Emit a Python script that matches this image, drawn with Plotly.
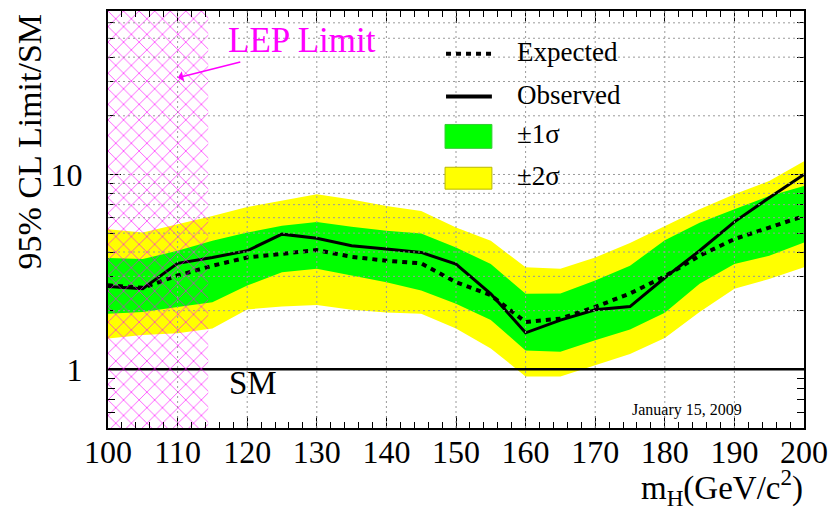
import math
import plotly.graph_objects as go

# Higgs mass points (GeV/c^2)
mass = [100, 105, 110, 115, 120, 125, 130, 135, 140, 145, 150,
        155, 160, 165, 170, 175, 180, 185, 190, 195, 200]

# 95% CL limit / SM, observed and median expected
observed = [2.66, 2.59, 3.50, 3.75, 4.06, 4.94, 4.71, 4.31, 4.14, 3.98, 3.47,
            2.44, 1.54, 1.79, 2.02, 2.10, 2.95, 4.06, 5.71, 7.60, 10.0]
expected = [2.70, 2.62, 3.03, 3.40, 3.75, 3.91, 4.09, 3.78, 3.61, 3.50, 2.80,
            2.40, 1.75, 1.82, 2.09, 2.45, 3.00, 3.83, 4.66, 5.34, 6.12]

# +-1 sigma and +-2 sigma bands around the expected limit
sigma1_lo = [1.93, 1.97, 2.09, 2.21, 2.69, 3.15, 3.28, 3.03, 2.80, 2.54, 2.17,
             1.79, 1.25, 1.23, 1.41, 1.60, 1.95, 2.75, 3.47, 3.83, 4.48]
sigma1_hi = [3.73, 3.68, 4.06, 4.57, 5.03, 5.45, 5.71, 5.39, 5.14, 4.98, 4.22,
             3.47, 2.44, 2.45, 2.86, 3.40, 4.60, 5.66, 6.63, 7.76, 8.73]
sigma2_lo = [1.44, 1.50, 1.53, 1.62, 2.03, 2.10, 2.14, 2.02, 1.96, 1.93, 1.62,
             1.28, 0.92, 0.92, 1.05, 1.20, 1.45, 1.97, 2.59, 2.91, 3.34]
sigma2_hi = [5.24, 5.03, 5.56, 6.12, 6.81, 7.37, 7.91, 7.45, 6.89, 6.50, 5.34,
             4.57, 3.34, 3.28, 3.75, 4.45, 5.45, 6.63, 7.91, 9.25, 11.7]

LEP_LIMIT = 114.4
SM_RATIO = 1.0
X_MIN, X_MAX = 100, 200
Y_MIN, Y_MAX = 0.5, 69

x_major = list(range(100, 201, 10))
y_major = [1, 10]
y_minor = [0.6, 0.7, 0.8, 0.9, 2, 3, 4, 5, 6, 7, 8, 9, 20, 30, 40, 50, 60]
y_grid = [2, 3, 4, 5, 6, 7, 8, 9, 10, 20, 30, 40, 50, 60]

SERIF = "Liberation Serif, Times New Roman, serif"
YELLOW = "#ffff00"
GREEN = "#00ff00"
MAGENTA = "#ff00ff"
DOT_DASH = "5px,5px"

fig = go.Figure()

# +-2 sigma band
fig.add_trace(go.Scatter(x=mass, y=sigma2_lo, mode="lines", line=dict(width=0),
                         showlegend=False, hoverinfo="skip"))
fig.add_trace(go.Scatter(x=mass, y=sigma2_hi, mode="lines", line=dict(width=0),
                         fill="tonexty", fillcolor=YELLOW, showlegend=False,
                         hoverinfo="skip"))
# +-1 sigma band
fig.add_trace(go.Scatter(x=mass, y=sigma1_lo, mode="lines", line=dict(width=0),
                         showlegend=False, hoverinfo="skip"))
fig.add_trace(go.Scatter(x=mass, y=sigma1_hi, mode="lines", line=dict(width=0),
                         fill="tonexty", fillcolor=GREEN, showlegend=False,
                         hoverinfo="skip"))

# SM reference line
fig.add_trace(go.Scatter(x=[X_MIN, X_MAX], y=[SM_RATIO, SM_RATIO], mode="lines",
                         line=dict(color="black", width=2.5), showlegend=False,
                         hoverinfo="skip"))

# expected and observed limits
fig.add_trace(go.Scatter(x=mass, y=expected, mode="lines",
                         line=dict(color="black", width=4, dash=DOT_DASH),
                         name="Expected", showlegend=False))
fig.add_trace(go.Scatter(x=mass, y=observed, mode="lines",
                         line=dict(color="black", width=3),
                         name="Observed", showlegend=False))

# LEP exclusion, cross-hatched
fig.add_trace(go.Scatter(
    x=[X_MIN, LEP_LIMIT, LEP_LIMIT, X_MIN, X_MIN],
    y=[Y_MIN, Y_MIN, Y_MAX, Y_MAX, Y_MIN],
    mode="lines", line=dict(width=0), fill="toself",
    fillcolor="rgba(0,0,0,0)",
    fillpattern=dict(shape="x", fgcolor=MAGENTA, bgcolor="rgba(0,0,0,0)",
                     fgopacity=0.9, size=11, solidity=0.12),
    showlegend=False, hoverinfo="skip"))

shapes = []
for xv in x_major[1:-1]:
    shapes.append(dict(type="line", xref="x", yref="paper", x0=xv, x1=xv,
                       y0=0, y1=1, layer="above",
                       line=dict(color="#9a9a9a", width=1, dash="2px,3px")))
for yv in y_grid:
    shapes.append(dict(type="line", xref="paper", yref="y", x0=0, x1=1,
                       y0=yv, y1=yv, layer="above",
                       line=dict(color="#9a9a9a", width=1, dash="2px,3px")))

# legend, drawn by hand in pixel-like paper coordinates
PW, PH, L, T = 698.0, 419.0, 108.0, 9.0


def px(xp):
    return (xp - L) / PW


def py(yp):
    return 1 - (yp - T) / PH


shapes += [
    dict(type="line", xref="paper", yref="paper", x0=px(447), x1=px(493),
         y0=py(52), y1=py(52), line=dict(color="black", width=4, dash=DOT_DASH)),
    dict(type="line", xref="paper", yref="paper", x0=px(447), x1=px(493),
         y0=py(95), y1=py(95), line=dict(color="black", width=4)),
    dict(type="rect", xref="paper", yref="paper", x0=px(446), x1=px(493),
         y0=py(147), y1=py(123), fillcolor=GREEN,
         line=dict(color="#33cc33", width=1)),
    dict(type="rect", xref="paper", yref="paper", x0=px(446), x1=px(493),
         y0=py(188), y1=py(166), fillcolor=YELLOW,
         line=dict(color="#b8b800", width=1)),
]

annotations = []
for label, yc in [("Expected", 50), ("Observed", 93), ("±1σ", 133), ("±2σ", 175)]:
    annotations.append(dict(text=label, xref="paper", yref="paper", x=px(516),
                            y=py(yc), xanchor="left", yanchor="middle",
                            showarrow=False, font=dict(family=SERIF, size=27,
                                                       color="black")))

annotations += [
    dict(text="LEP Limit", xref="paper", yref="paper", x=px(226), y=py(39),
         xanchor="left", yanchor="middle", showarrow=False,
         font=dict(family=SERIF, size=35, color=MAGENTA)),
    dict(text="", xref="paper", yref="paper", x=px(178), y=py(76),
         ax=64, ay=-16, showarrow=True, arrowhead=1, arrowsize=1.2,
         arrowwidth=1.5, arrowcolor=MAGENTA),
    dict(text="SM", xref="paper", yref="paper", x=px(227), y=py(383),
         xanchor="left", yanchor="middle", showarrow=False,
         font=dict(family=SERIF, size=33, color="black")),
    dict(text="January 15, 2009", xref="paper", yref="paper", x=px(631),
         y=py(410), xanchor="left", yanchor="middle", showarrow=False,
         font=dict(family=SERIF, size=16, color="black")),
    dict(text="95% CL Limit/SM", xref="paper", yref="paper", x=px(29),
         y=py(140), xanchor="center", yanchor="middle", textangle=-90,
         showarrow=False, font=dict(family=SERIF, size=34, color="black")),
    dict(text="m<sub>H</sub>(GeV/c<sup>2</sup>)", xref="paper", yref="paper",
         x=px(807), y=py(488), xanchor="right", yanchor="middle",
         showarrow=False, font=dict(family=SERIF, size=33, color="black")),
]

fig.update_layout(
    width=837, height=508,
    margin=dict(l=108, r=31, t=9, b=80),
    paper_bgcolor="white", plot_bgcolor="white",
    showlegend=False,
    shapes=shapes, annotations=annotations,
    xaxis=dict(
        range=[X_MIN, X_MAX], tickmode="array", tickvals=x_major,
        ticks="inside", ticklen=12, tickwidth=1.2, tickcolor="black",
        showline=True, linewidth=2, linecolor="black", mirror="ticks",
        showgrid=False, zeroline=False,
        minor=dict(dtick=2, tick0=100, ticks="inside", ticklen=6,
                   tickwidth=1, tickcolor="black", showgrid=False),
        tickfont=dict(family=SERIF, size=32, color="black"),
        ticklabelstandoff=-5,
    ),
    yaxis=dict(
        type="log", range=[math.log10(Y_MIN), math.log10(Y_MAX)],
        tickmode="array", tickvals=y_major, ticktext=[str(v) for v in y_major],
        ticks="inside", ticklen=13, tickwidth=1.2, tickcolor="black",
        showline=True, linewidth=2, linecolor="black", mirror="ticks",
        showgrid=False, zeroline=False,
        minor=dict(tickmode="array", tickvals=y_minor, ticks="inside",
                   ticklen=7, tickwidth=1, tickcolor="black", showgrid=False),
        tickfont=dict(family=SERIF, size=32, color="black"),
        ticklabelstandoff=17,
    ),
)

fig.write_html("out.html")
